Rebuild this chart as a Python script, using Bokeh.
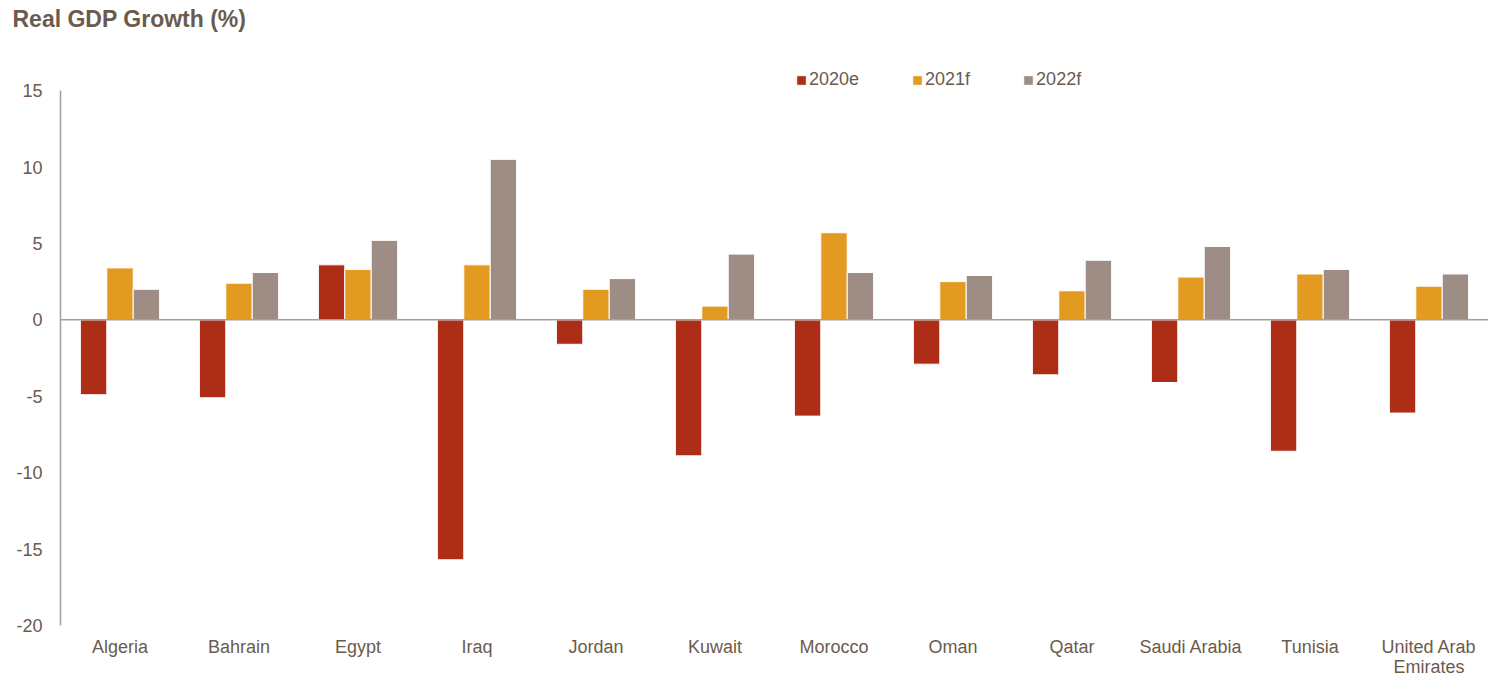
from bokeh.plotting import figure
from bokeh.models import (ColumnDataSource, FactorRange, Range1d, Span, Legend, LegendItem,
                          FixedTicker, CategoricalAxis, Title, CustomJSTickFormatter)
from bokeh.transform import dodge
from bokeh.embed import file_html
from bokeh.resources import INLINE

countries = ["Algeria", "Bahrain", "Egypt", "Iraq", "Jordan", "Kuwait", "Morocco",
             "Oman", "Qatar", "Saudi Arabia", "Tunisia", "United Arab Emirates"]
g2020e = [-4.9, -5.1, 3.6, -15.7, -1.6, -8.9, -6.3, -2.9, -3.6, -4.1, -8.6, -6.1]
g2021f = [3.4, 2.4, 3.3, 3.6, 2.0, 0.9, 5.7, 2.5, 1.9, 2.8, 3.0, 2.2]
g2022f = [2.0, 3.1, 5.2, 10.5, 2.7, 4.3, 3.1, 2.9, 3.9, 4.8, 3.3, 3.0]
series = ["2020e", "2021f", "2022f"]
colors = ["#AE2D17", "#E29B20", "#9E8D84"]
y_ticks = [15, 10, 5, 0, -5, -10, -15, -20]
wrap_keys = ["United Arab Emirates"]
wrap_line1 = ["United Arab"]
wrap_line2 = ["Emirates"]

TXT = "#6B5B4E"
FONT = "Liberation Sans"
FS = "18px"

src = ColumnDataSource(dict(c=countries, a=g2020e, b=g2021f, d=g2022f))

# frame spans y=36..625; 15 -> 91px, -20 -> 625px (15.257 px per unit)
p = figure(width=1488, height=681, x_range=FactorRange(*countries),
           y_range=Range1d(-20, 18.605), output_backend="svg", toolbar_location=None,
           min_border_left=60, min_border_right=0, min_border_top=0, min_border_bottom=56)

bw = 0.222
renderers = []
for col, off, colr in zip(["a", "b", "d"], [-bw, 0, bw], colors):
    r = p.vbar(x=dodge("c", off, range=p.x_range), top=col, bottom=0, width=bw, source=src,
               fill_color=colr, line_color="white", line_width=1)
    renderers.append(r)

p.add_layout(Span(location=0, dimension="width", line_color="#A79E98", line_width=1.5))

legend = Legend(items=[LegendItem(label=s, renderers=[r]) for s, r in zip(series, renderers)],
                orientation="horizontal", location=(735, 535), border_line_color=None,
                background_fill_alpha=0, glyph_width=12, glyph_height=12, label_standoff=2,
                spacing=52, padding=0, margin=0, label_height=20, label_text_font=FONT,
                label_text_font_size=FS, label_text_color=TXT)
p.add_layout(legend, "center")

p.title = Title(text="Real GDP Growth (%)", text_font=FONT, text_font_size="23px",
                text_font_style="bold", text_color=TXT, offset=-48, standoff=7)

p.xgrid.visible = False
p.ygrid.visible = False
p.outline_line_color = None

p.yaxis.ticker = FixedTicker(ticks=y_ticks)
p.yaxis.bounds = (-20, 15)
p.yaxis.major_label_overrides = {t: str(t) for t in y_ticks}
p.yaxis.major_tick_line_color = None
p.yaxis.minor_tick_line_color = None
p.yaxis.axis_line_color = "#A79E98"
p.yaxis.axis_line_width = 1.5
p.yaxis.major_label_text_font = FONT
p.yaxis.major_label_text_font_size = FS
p.yaxis.major_label_text_color = TXT
p.yaxis.major_label_standoff = 12

xa = p.xaxis[0]
xa.axis_line_color = None
xa.major_tick_line_color = None
xa.minor_tick_line_color = None
xa.major_label_text_font = FONT
xa.major_label_text_font_size = FS
xa.major_label_text_color = TXT
xa.major_label_standoff = 5
xa.formatter = CustomJSTickFormatter(args=dict(k=wrap_keys, v=wrap_line1),
                                     code="const i = k.indexOf(tick); return i >= 0 ? v[i] : tick;")

xa2 = CategoricalAxis(axis_line_color=None, major_tick_line_color=None,
                      minor_tick_line_color=None, major_label_text_font=FONT,
                      major_label_text_font_size=FS, major_label_text_color=TXT,
                      major_label_standoff=-9,
                      formatter=CustomJSTickFormatter(args=dict(k=wrap_keys, v=wrap_line2),
                                                      code="const i = k.indexOf(tick); return i >= 0 ? v[i] : '';"))
p.add_layout(xa2, "below")

open("out.html", "w").write(file_html(p, INLINE))
